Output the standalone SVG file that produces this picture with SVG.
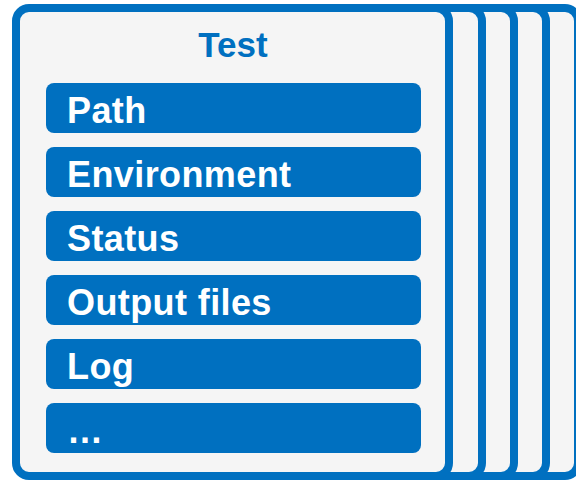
<svg xmlns="http://www.w3.org/2000/svg" width="576" height="480" viewBox="0 0 576 480">
<style>
.card{fill:#F5F5F5;stroke:#0070C0;stroke-width:8}
.bar{fill:#0070C0}
.lbl{font-family:"Liberation Sans",Arial,sans-serif;font-weight:bold;font-size:36px;letter-spacing:0.4px;fill:#FFFFFF}
.title{font-family:"Liberation Sans",Arial,sans-serif;font-weight:bold;font-size:35px;fill:#0070C0}
</style>
<rect width="576" height="480" fill="#FFFFFF"/>
<g id="card-stack">
<rect class="card" x="145" y="8" width="433" height="468" rx="13"/>
<rect class="card" x="113" y="8" width="433" height="468" rx="13"/>
<rect class="card" x="81" y="8" width="433" height="468" rx="13"/>
<rect class="card" x="49" y="8" width="433" height="468" rx="13"/>
</g>
<g id="test">
<rect class="card" x="16" y="8" width="433" height="468" rx="13"/>
<text class="title" x="233" y="57" text-anchor="middle">Test</text>
</g>
<g id="path"><rect class="bar" x="46" y="83" width="375" height="50" rx="8"/><text class="lbl" x="67" y="123">Path</text></g>
<g id="environment"><rect class="bar" x="46" y="147" width="375" height="50" rx="8"/><text class="lbl" x="67" y="187">Environment</text></g>
<g id="status"><rect class="bar" x="46" y="211" width="375" height="50" rx="8"/><text class="lbl" x="67" y="251">Status</text></g>
<g id="output-files"><rect class="bar" x="46" y="275" width="375" height="50" rx="8"/><text class="lbl" x="67" y="315">Output files</text></g>
<g id="log"><rect class="bar" x="46" y="339" width="375" height="50" rx="8"/><text class="lbl" x="67" y="379">Log</text></g>
<g id="more"><rect class="bar" x="46" y="403" width="375" height="50" rx="8"/><text class="lbl" x="67" y="443">…</text></g>
<g id="connectors"/>
</svg>
